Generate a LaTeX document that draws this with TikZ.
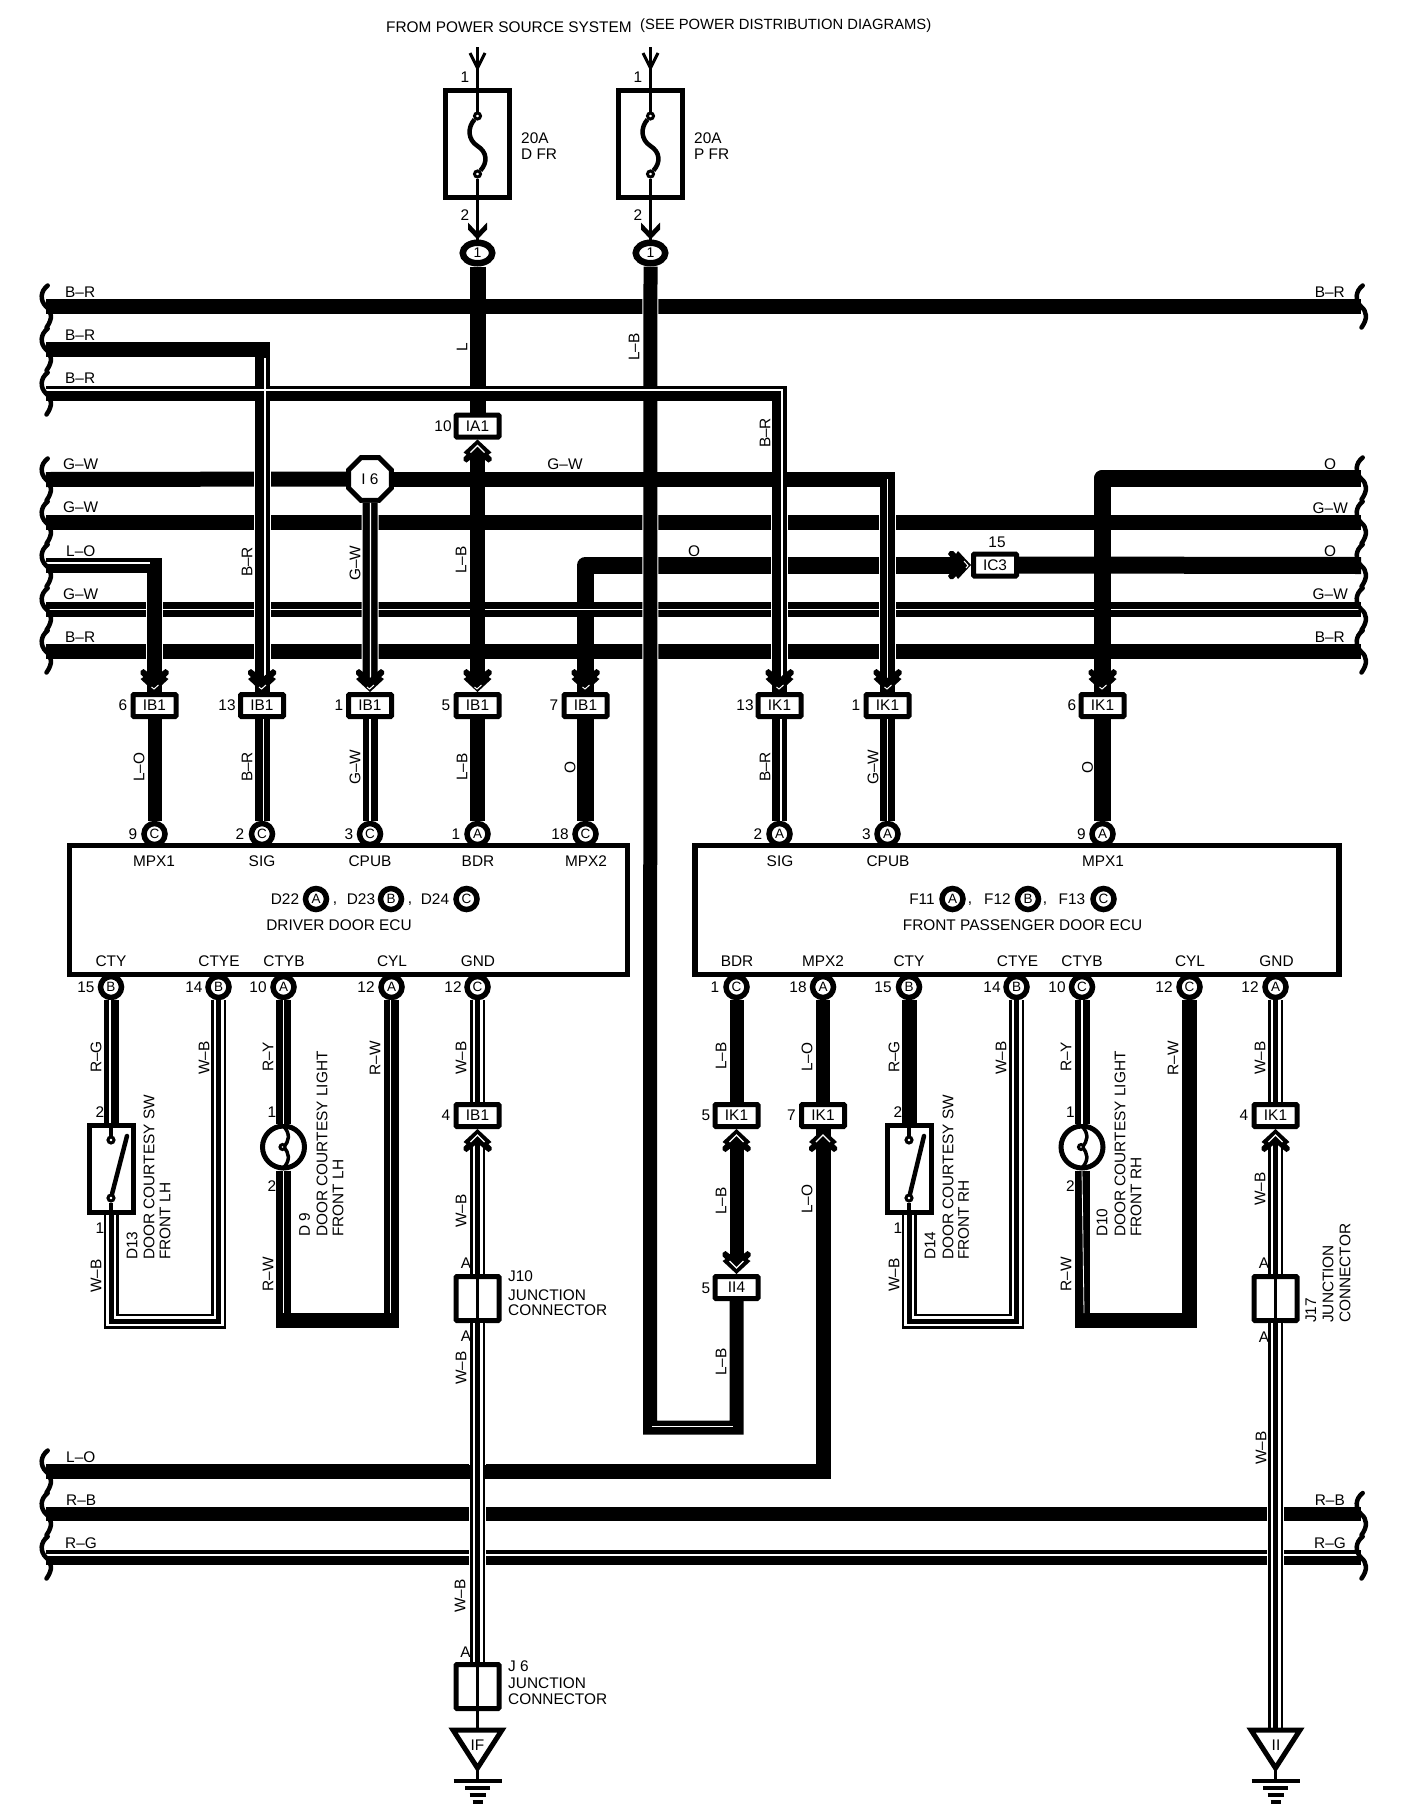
\documentclass[tikz,border=0pt]{standalone}
\usepackage{fontspec}
\setmainfont{Liberation Sans}
\usetikzlibrary{shapes.geometric}

\newcommand{\wbwire}[2][]{\draw[wbshell,#1] #2; \draw[wbcore,#1] #2;}

\begin{document}
\begin{tikzpicture}[x=1pt, y=-1pt,
		wire/.style={line width=15pt, color=INK},
		wirefat/.style={line width=17pt, color=INK, line join=round},
		thinwire/.style={line width=3pt, color=INK},
		halo/.style={line width=17pt, color=PAPER},
		stripe/.style={line width=1.3pt, color=PAPER},
		hairstripe/.style={line width=0.8pt, color=PAPER},
		wbshell/.style={line width=2.5pt, color=INK, double=PAPER, double distance=10pt},
		wbcore/.style={line width=5pt, color=INK},
		tohead/.style={shorten >=12pt},
		fromhead/.style={shorten <=12pt},
		lbl/.style={font=\fontsize{15.4}{16}\selectfont, inner sep=0pt, color=INK},
		vlbl/.style={lbl, rotate=90},
		vlbltext/.style={lbl, rotate=90, anchor=west},
		connbox/.style={draw=INK, line width=5pt, fill=PAPER, rectangle, rounded corners=1pt, minimum width=43pt, minimum height=22pt, inner sep=0pt, font=\fontsize{15.4}{16}\selectfont},
		pinmark/.style={draw=INK, line width=5.5pt, fill=PAPER, circle, minimum size=21pt, inner sep=0pt, font=\fontsize{13.5}{14}\selectfont},
		ovalmark/.style={draw=INK, line width=6.5pt, fill=PAPER, ellipse, minimum width=29.5pt, minimum height=20.5pt, inner sep=0pt, font=\fontsize{14}{15}\selectfont},
		termmark/.style={draw=INK, line width=3pt, fill=PAPER, circle, minimum size=6pt, inner sep=0pt},
		fusebox/.style={draw=INK, line width=5pt, rectangle, minimum width=64pt, minimum height=107pt},
		ecubox/.style={draw=INK, line width=5.5pt, fill=PAPER, rectangle, minimum height=129pt},
		switchbox/.style={draw=INK, line width=5pt, rectangle, minimum width=44pt, minimum height=87pt},
		lampmark/.style={draw=INK, line width=5pt, fill=PAPER, circle, minimum size=42pt, inner sep=0pt},
		jointbox/.style={draw=INK, line width=5pt, fill=PAPER, rectangle, rounded corners=1pt, minimum width=43pt, minimum height=44pt},
		headdown/.pic={
			\fill[INK] (0,0) -- (14,-13) -- (11,-15) -- (14,-18) -- (14,-21) -- (11,-23) -- (7,-20) -- (0,-14) -- (-7,-20) -- (-11,-23) -- (-14,-21) -- (-14,-18) -- (-11,-15) -- (-14,-13) -- cycle;
			\draw[PAPER, line width=1pt] (-3,-5) -- (-0.5,-3) -- (4,-7);
		},
		headup/.pic={
			\fill[INK] (0,0) -- (14,-13) -- (11,-15) -- (14,-18) -- (14,-21) -- (11,-23) -- (7,-20) -- (0,-14) -- (-7,-20) -- (-11,-23) -- (-14,-21) -- (-14,-18) -- (-11,-15) -- (-14,-13) -- cycle;
			\draw[PAPER, line width=1.3pt] (-7,-13) -- (0,-6) -- (7,-13);
		},
		headopen/.pic={
			\draw[INK, line width=3pt] (-7.5,-15) -- (0,0) -- (7.5,-15);
		},
		headfuse/.pic={
			\fill[INK] (0,0) -- (9.5,-10) -- (9.5,-17) -- (2,-9) -- (-2,-9) -- (-9.5,-17) -- (-9.5,-10) -- cycle;
		},
		wave/.pic={
			\draw[INK, line width=4.5pt, line cap=round] (1.7,-21) .. controls (-6,-15) and (-6,-6) .. (0,0) .. controls (6,5) and (7,12) .. (0.5,21);
		},
		gndmark/.pic={
			\draw[INK, line width=4pt] (-24,0) -- (24,0);
			\draw[INK, line width=4pt] (-12.5,7) -- (12.5,7);
			\draw[INK, line width=4pt] (-8,14) -- (8,14);
			\draw[INK, line width=4pt] (-5,21) -- (5,21);
		},
		trimark/.pic={
			\draw[INK, line width=5pt, fill=PAPER] (-24.5,0) -- (24.5,0) -- (0,38) -- cycle;
		}]
	\definecolor{INK}{RGB}{0, 0, 0}
	\definecolor{PAPER}{RGB}{255, 255, 255}
	\useasboundingbox (0,0) rectangle (1408,1818);

	\coordinate (busLa) at (46,306.5);
	\coordinate (busRa) at (1361,306.5);
	\coordinate (busLb) at (46,349.5);
	\coordinate (busLc) at (46,393.5);
	\coordinate (busLd) at (46,479.5);
	\coordinate (busLe) at (46,522.5);
	\coordinate (busRe) at (1361,522.5);
	\coordinate (busLf) at (46,565.5);
	\coordinate (busLg) at (46,609);
	\coordinate (busRg) at (1361,609);
	\coordinate (busLh) at (46,651.5);
	\coordinate (busRh) at (1361,651.5);
	\coordinate (busRd) at (1361,478.5);
	\coordinate (busRf) at (1361,565.5);
	\coordinate (busLi) at (46,1471.5);
	\coordinate (busLj) at (46,1514);
	\coordinate (busRj) at (1361,1514);
	\coordinate (busLk) at (46,1557.5);
	\coordinate (busRk) at (1361,1557.5);

	\node[fusebox] (fuseD) at (477.5,144) {};
	\node[fusebox] (fuseP) at (650.5,144) {};
	\node[termmark] (fuseDa) at (477.5,116) {};
	\node[termmark] (fuseDb) at (477.5,174) {};
	\node[termmark] (fusePa) at (650.5,116) {};
	\node[termmark] (fusePb) at (650.5,174) {};
	\coordinate (feedD) at (477.5,47);
	\coordinate (feedP) at (650.5,47);
	\node[ovalmark] (ovalD) at (477.5,253) {1};
	\node[ovalmark] (ovalP) at (650.5,253) {1};

	\node[connbox] (ia) at (477.5,426) {IA1};
	\node[connbox] (ic) at (995,565) {IC3};
	\node[draw=INK, line width=5pt, fill=PAPER, regular polygon, regular polygon sides=8, minimum size=46.5pt, inner sep=0pt, font=\fontsize{15.4}{16}\selectfont] (oct) at (370,479) {I 6};

	\node[connbox] (ibA) at (154.5,705.5) {IB1};
	\node[connbox] (ibB) at (262,705.5) {IB1};
	\node[connbox] (ibC) at (370,705.5) {IB1};
	\node[connbox] (ibD) at (477.5,705.5) {IB1};
	\node[connbox] (ibE) at (585.5,705.5) {IB1};
	\node[connbox] (ikF) at (779.5,705.5) {IK1};
	\node[connbox] (ikG) at (887.5,705.5) {IK1};
	\node[connbox] (ikH) at (1102.5,705.5) {IK1};

	\node[pinmark] (pnA) at (154.5,834) {C};
	\node[pinmark] (pnB) at (262,834) {C};
	\node[pinmark] (pnC) at (370,834) {C};
	\node[pinmark] (pnD) at (477.5,834) {A};
	\node[pinmark] (pnE) at (585.5,834) {C};
	\node[pinmark] (pnF) at (779.5,834) {A};
	\node[pinmark] (pnG) at (887.5,834) {A};
	\node[pinmark] (pnH) at (1102.5,834) {A};

	\node[pinmark] (pnCty) at (111,987) {B};
	\node[pinmark] (pnCtye) at (218.5,987) {B};
	\node[pinmark] (pnCtyb) at (283.5,987) {A};
	\node[pinmark] (pnCyl) at (391.5,987) {A};
	\node[pinmark] (pnGnd) at (477.5,987) {C};
	\node[pinmark] (pnBdrR) at (736.5,987) {C};
	\node[pinmark] (pnMpxR) at (823,987) {A};
	\node[pinmark] (pnCtyR) at (909,987) {B};
	\node[pinmark] (pnCtyeR) at (1016.5,987) {B};
	\node[pinmark] (pnCtybR) at (1082,987) {C};
	\node[pinmark] (pnCylR) at (1189.5,987) {C};
	\node[pinmark] (pnGndR) at (1275.5,987) {A};

	\node[ecubox, minimum width=558pt] (ecuD) at (348.5,910) {};
	\node[ecubox, minimum width=644pt] (ecuP) at (1017,910) {};

	\node[pinmark] (idA) at (316,899) {A};
	\node[pinmark] (idB) at (391,899) {B};
	\node[pinmark] (idC) at (466.5,899) {C};
	\node[pinmark] (ifA) at (952.5,899) {A};
	\node[pinmark] (ifB) at (1028,899) {B};
	\node[pinmark] (ifC) at (1103.5,899) {C};

	\node[connbox] (ibF) at (477.5,1115.5) {IB1};
	\node[connbox] (ikD) at (736.5,1115.5) {IK1};
	\node[connbox] (ikE) at (823,1115.5) {IK1};
	\node[connbox] (ikI) at (1275.5,1115.5) {IK1};
	\node[connbox] (iiD) at (736.5,1287.5) {II4};

	\node[switchbox] (swL) at (111,1169) {};
	\node[switchbox] (swR) at (909,1169) {};
	\node[termmark] (swLa) at (111,1140) {};
	\node[termmark] (swLb) at (111,1198) {};
	\node[termmark] (swRa) at (909,1140) {};
	\node[termmark] (swRb) at (909,1198) {};
	\coordinate (swLe) at (127,1136);
	\coordinate (swRe) at (924,1136);
	\node[lampmark] (lampL) at (283.5,1147) {};
	\node[lampmark] (lampR) at (1082,1147) {};

	\node[jointbox] (jA) at (477.5,1298.5) {};
	\node[jointbox] (jB) at (1275.5,1298.5) {};
	\node[jointbox] (jC) at (477.5,1686.5) {};

	\coordinate (uSwLa) at (111,1321);
	\coordinate (uSwLb) at (218.5,1321);
	\coordinate (uSwRa) at (909,1321);
	\coordinate (uSwRb) at (1016.5,1321);
	\coordinate (uLpLa) at (283.5,1320);
	\coordinate (uLpLb) at (391.5,1320);
	\coordinate (uLpRa) at (1082,1320);
	\coordinate (uLpRb) at (1189.5,1320);
	\coordinate (uLbA) at (650,1427.5);
	\coordinate (uLbB) at (736.5,1427.5);
	\coordinate (triL) at (477.5,1730);
	\coordinate (triR) at (1275.5,1730);
	\coordinate (tipL) at (477.5,1768);
	\coordinate (tipR) at (1275.5,1768);
	\coordinate (gndL) at (477.5,1781);
	\coordinate (gndR) at (1275.5,1781);

	\draw[wire] (busLa) -- (busRa);
	\draw[wire] (busLb) -| (ibB.north);
	\draw[wire] (busLc) -| (ikF.north);
	\draw[wire] (busLd) -- (oct.west);
	\draw[wire] (oct.east) -| (ikG.north);
	\draw[wire] (busLe) -- (busRe);
	\draw[wire] (busLf) -| (ibA.north);
	\draw[wire] (busLg) -- (busRg);
	\draw[wire] (busLh) -- (busRh);
	\draw[wire] (busLi) -| (ikE.south);
	\draw[wire, line width=14pt] (busLj) -- (busRj);
	\draw[wire] (busLk) -- (busRk);
	\draw[wirefat, fromhead] (ic.west) -| (ibE.north);
	\draw[wirefat] (ic.east) -- (busRf);
	\draw[wirefat] (busRd) -| (ikH.north);
	\draw[stripe] ([yshift=-0.3pt]busLg) -- ([yshift=-0.3pt]busRg);
	\draw[stripe] ([yshift=2.5pt]busLk) -- ([yshift=2.5pt]busRk);

	\draw[halo, tohead] (ibA.north |- busLf) -- (ibA.north);
	\draw[halo, tohead] (ibB.north |- busLb) -- (ibB.north);
	\draw[halo, tohead] (oct.south) -- (ibC.north);
	\draw[halo, tohead] (ikF.north |- busLc) -- (ikF.north);
	\draw[halo, tohead] (ikG.north |- busLd) -- (ikG.north);
	\draw[halo, line width=16pt] (ovalP.south) -- (uLbA);
	\draw[halo] (jA.south) -- (jC.north);
	\draw[halo] (jB.south) -- (triR);

	\draw[wire, tohead] (busLf) -| (ibA.north);
	\draw[wire, tohead] (busLb) -| (ibB.north);
	\draw[wire, tohead] (oct.south) -- (ibC.north);
	\draw[wire, tohead] (busLc) -| (ikF.north);
	\draw[wire, tohead] (oct.east) -| (ikG.north);
	\draw[wirefat, tohead] (busRd) -| (ikH.north);
	\draw[wire, line width=16pt] (ovalD.south) -- (ia.north);
	\draw[wire, fromhead, tohead] (ia.south) -- (ibD.north);
	\draw[wire, line width=14pt] (ovalP.south) -- (uLbA) -- (uLbB) -- (iiD.south);
	\draw[wire, line width=14pt, tohead] (busLi) -| (ikE.south);

	\draw[stripe] ([yshift=2.5pt]busLf) -- (150,563);
	\draw[stripe] (265,358) -- ([xshift=3pt, yshift=14pt]ibB.north);
	\draw[stripe, tohead] ([yshift=3.5pt]busLc) -| ([xshift=2.5pt]ikF.north);
	\draw[stripe, tohead] ([xshift=0.5pt]oct.south) -- ([xshift=0.5pt]ibC.north);
	\draw[stripe, tohead] (887.5,479) -- (ikG.north);
	\draw[hairstripe] (652,1426) -- (733,1426);

	\draw[wire, line width=14pt] (ibA.south) -- (pnA.north);
	\draw[wire] (ibB.south) -- (pnB.north);
	\draw[wire] (ibC.south) -- (pnC.north);
	\draw[wire] (ibD.south) -- (pnD.north);
	\draw[wirefat] (ibE.south) -- (pnE.north);
	\draw[wire] (ikF.south) -- (pnF.north);
	\draw[wire] (ikG.south) -- (pnG.north);
	\draw[wirefat] (ikH.south) -- (pnH.north);
	\draw[stripe] ([xshift=1.5pt]ibB.south) -- ([xshift=1.5pt]pnB.north);
	\draw[stripe] (ibC.south) -- (pnC.north);
	\draw[stripe] ([xshift=1.5pt]ikF.south) -- ([xshift=1.5pt]pnF.north);
	\draw[stripe] (ikG.south) -- (pnG.north);

	\draw[wire] (pnCty.south) -- (swL.north);
	\draw[stripe] ([xshift=-1pt]pnCty.south) -- ([xshift=-1pt]swL.north);
	\draw[line width=4pt, color=INK] (swL.north) -- (swLa);
	\draw[line width=4pt, color=INK] (swLb) -- (swL.south);
	\draw[line width=4.5pt, color=INK, line cap=round] (swLb) -- (swLe);
	\wbwire{(swL.south) -- (uSwLa) -- (uSwLb) -- (pnCtye.south)}
	\draw[wire] (pnCtyb.south) -- (lampL.north);
	\draw[stripe] (pnCtyb.south) -- (lampL.north);
	\draw[wire] (lampL.south) -- (uLpLa) -- (uLpLb) -- (pnCyl.south);
	\draw[hairstripe] (lampL.south) -- (283.5,1313);
	\draw[hairstripe] (390.5,1313) -- ([xshift=-1pt]pnCyl.south);

	\wbwire{(pnGnd.south) -- (ibF.north)}
	\wbwire[fromhead]{(ibF.south) -- (jA.north)}
	\wbwire{(jA.south) -- (jC.north)}
	\draw[line width=3.5pt, color=INK] (jA.north) -- (jA.south);
	\draw[line width=3.5pt, color=INK] (jC.north) -- (jC.south);
	\draw[thinwire] (jC.south) -- (triL);

	\draw[wire, line width=14pt] (pnBdrR.south) -- (ikD.north);
	\draw[wire, line width=14pt, fromhead, tohead] (ikD.south) -- (iiD.north);
	\draw[wire, line width=14pt] (pnMpxR.south) -- (ikE.north);
	\draw[wire] (pnCtyR.south) -- (swR.north);
	\draw[line width=4pt, color=INK] (swR.north) -- (swRa);
	\draw[line width=4pt, color=INK] (swRb) -- (swR.south);
	\draw[line width=4.5pt, color=INK, line cap=round] (swRb) -- (swRe);
	\wbwire{(swR.south) -- (uSwRa) -- (uSwRb) -- (pnCtyeR.south)}
	\draw[wire] (pnCtybR.south) -- (lampR.north);
	\draw[stripe] (pnCtybR.south) -- (lampR.north);
	\draw[wire] (lampR.south) -- (uLpRa) -- (uLpRb) -- (pnCylR.south);
	\draw[hairstripe] (lampR.south) -- (1084,1313);

	\wbwire{(pnGndR.south) -- (ikI.north)}
	\wbwire[fromhead]{(ikI.south) -- (jB.north)}
	\wbwire{(jB.south) -- (triR)}
	\draw[line width=3.5pt, color=INK] (jB.north) -- (jB.south);

	\draw[thinwire] (feedD) -- (fuseDa);
	\draw[thinwire] (fuseDb) -- (ovalD.north);
	\draw[thinwire] (feedP) -- (fusePa);
	\draw[thinwire] (fusePb) -- (ovalP.north);
	\draw[line width=4.5pt, color=INK] (fuseDa) .. controls (467,128) and (468,140) .. (477.5,146) .. controls (487,152) and (488,162) .. (fuseDb);
	\draw[line width=4.5pt, color=INK] (fusePa) .. controls (640,128) and (641,140) .. (650.5,146) .. controls (660,152) and (661,162) .. (fusePb);

	\begin{scope}[shift={(283.5,1147)}]
		\draw[line width=3.5pt, color=INK] (0,-21) .. controls (7,-13) and (6,-6) .. (0,0) .. controls (6,6) and (7,13) .. (0,21);
		\node[termmark, minimum size=5pt] (lampLc) at (-1,0) {};
	\end{scope}
	\begin{scope}[shift={(1082,1147)}]
		\draw[line width=3.5pt, color=INK] (0,-21) .. controls (7,-13) and (6,-6) .. (0,0) .. controls (6,6) and (7,13) .. (0,21);
		\node[termmark, minimum size=5pt] (lampRc) at (-1,0) {};
	\end{scope}

	\pic at (busLa) {wave};
	\pic at (busLb) {wave};
	\pic at (busLc) {wave};
	\pic at (busLd) {wave};
	\pic at (busLe) {wave};
	\pic at (busLf) {wave};
	\pic at (busLg) {wave};
	\pic at (busLh) {wave};
	\pic at (busLi) {wave};
	\pic at (busLj) {wave};
	\pic at (busLk) {wave};
	\pic at (busRa) {wave};
	\pic at (busRd) {wave};
	\pic at (busRe) {wave};
	\pic at (busRf) {wave};
	\pic at (busRg) {wave};
	\pic at (busRh) {wave};
	\pic at (busRj) {wave};
	\pic at (busRk) {wave};

	\pic at (477.5,68) {headopen};
	\pic at (650.5,68) {headopen};
	\pic at (ovalD.north) {headfuse};
	\pic at (ovalP.north) {headfuse};
	\pic at (ibA.north) {headdown};
	\pic at (ibB.north) {headdown};
	\pic at (ibC.north) {headdown};
	\pic at (ibD.north) {headdown};
	\pic at (ibE.north) {headdown};
	\pic at (ikF.north) {headdown};
	\pic at (ikG.north) {headdown};
	\pic at (ikH.north) {headdown};
	\pic at (iiD.north) {headup};
	\pic[rotate=90] at (ic.west) {headdown};
	\pic[rotate=180] at (ia.south) {headup};
	\pic[rotate=180] at (ibF.south) {headup};
	\pic[rotate=180] at (ikD.south) {headup};
	\pic[rotate=180] at (ikE.south) {headup};
	\pic[rotate=180] at (ikI.south) {headup};

	\pic at (triL) {trimark};
	\pic at (triR) {trimark};
	\draw[thinwire] (tipL) -- (gndL);
	\draw[thinwire] (tipR) -- (gndR);
	\pic at (gndL) {gndmark};
	\pic at (gndR) {gndmark};
	\node[lbl] (triLt) at (477.5,1745) {IF};
	\node[lbl] (triRt) at (1276,1745) {II};

	\node[lbl, anchor=west] (srcA) at (386,27) {FROM POWER SOURCE SYSTEM};
	\node[lbl, anchor=west, font=\fontsize{14.8}{16}\selectfont] (srcB) at (640,26) {(SEE POWER DISTRIBUTION DIAGRAMS)};
	\node[lbl] (fdA) at (465,77) {1};
	\node[lbl] (fdB) at (465,215) {2};
	\node[lbl] (fpA) at (638,77) {1};
	\node[lbl] (fpB) at (638,215) {2};
	\node[lbl, anchor=west] (fdC) at (521,138) {20A};
	\node[lbl, anchor=west] (fdD) at (521,154) {D FR};
	\node[lbl, anchor=west] (fpC) at (694,138) {20A};
	\node[lbl, anchor=west] (fpD) at (694,154) {P FR};
	\node[lbl] (iaN) at (443,426) {10};
	\node[lbl] (icN) at (997,542) {15};

	\node[lbl, anchor=west] (nbLa) at (65,292) {B–R};
	\node[lbl, anchor=west] (nbLb) at (65,335) {B–R};
	\node[lbl, anchor=west] (nbLc) at (65,378) {B–R};
	\node[lbl, anchor=west] (nbLd) at (63,464) {G–W};
	\node[lbl, anchor=west] (nbLe) at (63,507) {G–W};
	\node[lbl, anchor=west] (nbLf) at (66,551) {L–O};
	\node[lbl, anchor=west] (nbLg) at (63,594) {G–W};
	\node[lbl, anchor=west] (nbLh) at (65,637) {B–R};
	\node[lbl, anchor=west] (nbLi) at (66,1457) {L–O};
	\node[lbl, anchor=west] (nbLj) at (66,1500) {R–B};
	\node[lbl, anchor=west] (nbLk) at (65,1543) {R–G};
	\node[lbl, anchor=east] (nbRa) at (1345,292) {B–R};
	\node[lbl] (nbRd) at (1330,464) {O};
	\node[lbl, anchor=east] (nbRe) at (1348,508) {G–W};
	\node[lbl] (nbRf) at (1330,551) {O};
	\node[lbl, anchor=east] (nbRg) at (1348,594) {G–W};
	\node[lbl, anchor=east] (nbRh) at (1345,637) {B–R};
	\node[lbl, anchor=east] (nbRj) at (1345,1500) {R–B};
	\node[lbl, anchor=east] (nbRk) at (1346,1543) {R–G};
	\node[lbl] (midA) at (565,464) {G–W};
	\node[lbl] (midB) at (694,551) {O};

	\node[vlbl] (vwL) at (462,347) {L};
	\node[vlbl] (vwLb) at (634,347) {L–B};
	\node[vlbl] (vwBr) at (765,433) {B–R};
	\node[vlbl] (vwBa) at (247,562) {B–R};
	\node[vlbl] (vwGa) at (355,563) {G–W};
	\node[vlbl] (vwLc) at (461,560) {L–B};
	\node[vlbl] (vtA) at (139,767) {L–O};
	\node[vlbl] (vtB) at (247,767) {B–R};
	\node[vlbl] (vtC) at (355,767) {G–W};
	\node[vlbl] (vtD) at (462,767) {L–B};
	\node[vlbl] (vtE) at (570,767) {O};
	\node[vlbl] (vtF) at (765,767) {B–R};
	\node[vlbl] (vtG) at (873,767) {G–W};
	\node[vlbl] (vtH) at (1087.5,767) {O};

	\node[lbl] (nA) at (133,834) {9};
	\node[lbl] (nB) at (240,834) {2};
	\node[lbl] (nC) at (349,834) {3};
	\node[lbl] (nD) at (456,834) {1};
	\node[lbl] (nE) at (560,834) {18};
	\node[lbl] (nF) at (758,834) {2};
	\node[lbl] (nG) at (866.5,834) {3};
	\node[lbl] (nH) at (1081.5,834) {9};
	\node[lbl] (mA) at (123,705) {6};
	\node[lbl] (mB) at (227,705) {13};
	\node[lbl] (mC) at (339,705) {1};
	\node[lbl] (mD) at (446,705) {5};
	\node[lbl] (mE) at (554,705) {7};
	\node[lbl] (mF) at (745,705) {13};
	\node[lbl] (mG) at (856,705) {1};
	\node[lbl] (mH) at (1072,705) {6};

	\node[lbl] (tpA) at (154,861) {MPX1};
	\node[lbl] (tpB) at (262,861) {SIG};
	\node[lbl] (tpC) at (370,861) {CPUB};
	\node[lbl] (tpD) at (478,861) {BDR};
	\node[lbl] (tpE) at (586,861) {MPX2};
	\node[lbl] (tpF) at (780,861) {SIG};
	\node[lbl] (tpG) at (888,861) {CPUB};
	\node[lbl] (tpH) at (1103,861) {MPX1};

	\node[lbl] (idAt) at (285,899) {D22};
	\node[lbl] (idAc) at (335,904) {,};
	\node[lbl] (idBt) at (361,899) {D23};
	\node[lbl] (idBc) at (410,904) {,};
	\node[lbl] (idCt) at (435,899) {D24};
	\node[lbl] (ecuDt) at (339,925) {DRIVER DOOR ECU};
	\node[lbl] (ifAt) at (922,899) {F11};
	\node[lbl] (ifAc) at (970,904) {,};
	\node[lbl] (ifBt) at (997.5,899) {F12};
	\node[lbl] (ifBc) at (1045,904) {,};
	\node[lbl] (ifCt) at (1072,899) {F13};
	\node[lbl] (ecuPt) at (1022.5,925) {FRONT PASSENGER DOOR ECU};

	\node[lbl] (btA) at (111,961) {CTY};
	\node[lbl] (btB) at (219,961) {CTYE};
	\node[lbl] (btC) at (284,961) {CTYB};
	\node[lbl] (btD) at (392,961) {CYL};
	\node[lbl] (btE) at (478,961) {GND};
	\node[lbl] (btF) at (737,961) {BDR};
	\node[lbl] (btG) at (823,961) {MPX2};
	\node[lbl] (btH) at (909,961) {CTY};
	\node[lbl] (btI) at (1017.5,961) {CTYE};
	\node[lbl] (btJ) at (1082,961) {CTYB};
	\node[lbl] (btK) at (1190,961) {CYL};
	\node[lbl] (btL) at (1276.5,961) {GND};
	\node[lbl] (bnA) at (86,987) {15};
	\node[lbl] (bnB) at (194,987) {14};
	\node[lbl] (bnC) at (258,987) {10};
	\node[lbl] (bnD) at (366,987) {12};
	\node[lbl] (bnE) at (453,987) {12};
	\node[lbl] (bnF) at (715,987) {1};
	\node[lbl] (bnG) at (798,987) {18};
	\node[lbl] (bnH) at (883,987) {15};
	\node[lbl] (bnI) at (992,987) {14};
	\node[lbl] (bnJ) at (1057,987) {10};
	\node[lbl] (bnK) at (1164,987) {12};
	\node[lbl] (bnL) at (1250,987) {12};

	\node[vlbl] (vbA) at (96,1057) {R–G};
	\node[vlbl] (vbB) at (204,1058) {W–B};
	\node[vlbl] (vbC) at (268,1057) {R–Y};
	\node[vlbl] (vbD) at (375,1058) {R–W};
	\node[vlbl] (vbE) at (461,1058) {W–B};
	\node[vlbl] (vbF) at (721,1056) {L–B};
	\node[vlbl] (vbG) at (807,1057) {L–O};
	\node[vlbl] (vbH) at (894,1057) {R–G};
	\node[vlbl] (vbI) at (1001,1058) {W–B};
	\node[vlbl] (vbJ) at (1066,1057) {R–Y};
	\node[vlbl] (vbK) at (1173,1058) {R–W};
	\node[vlbl] (vbL) at (1260,1058) {W–B};
	\node[vlbl] (vcA) at (96,1276) {W–B};
	\node[vlbl] (vcC) at (268,1274) {R–W};
	\node[vlbl] (vcE) at (461,1211) {W–B};
	\node[vlbl] (vcF) at (461,1368) {W–B};
	\node[vlbl] (vcG) at (460,1596) {W–B};
	\node[vlbl] (vcH) at (721,1201) {L–B};
	\node[vlbl] (vcI) at (721,1362) {L–B};
	\node[vlbl] (vcJ) at (807,1199) {L–O};
	\node[vlbl] (vcK) at (894,1275) {W–B};
	\node[vlbl] (vcL) at (1066,1274) {R–W};
	\node[vlbl] (vcM) at (1260,1189) {W–B};
	\node[vlbl] (vcN) at (1261,1448) {W–B};

	\node[lbl] (cfA) at (446,1115) {4};
	\node[lbl] (cfB) at (706,1115) {5};
	\node[lbl] (cfC) at (791.5,1115) {7};
	\node[lbl] (cfD) at (1244,1115) {4};
	\node[lbl] (cfE) at (706,1288) {5};
	\node[lbl] (swLn) at (100,1112) {2};
	\node[lbl] (swLm) at (100,1228) {1};
	\node[lbl] (swRn) at (898,1112) {2};
	\node[lbl] (swRm) at (898,1228) {1};
	\node[lbl] (lpLn) at (272,1112) {1};
	\node[lbl] (lpLm) at (272,1186) {2};
	\node[lbl] (lpRn) at (1070.5,1112) {1};
	\node[lbl] (lpRm) at (1070.5,1186) {2};

	\node[vlbltext] (swLa1) at (132,1260) {D13};
	\node[vlbltext] (swLa2) at (149,1260) {DOOR COURTESY SW};
	\node[vlbltext] (swLa3) at (165,1260) {FRONT LH};
	\node[vlbltext] (lpLa1) at (304.5,1237) {D 9};
	\node[vlbltext] (lpLa2) at (322,1237) {DOOR COURTESY LIGHT};
	\node[vlbltext] (lpLa3) at (338,1237) {FRONT LH};
	\node[vlbltext] (swRa1) at (930,1260) {D14};
	\node[vlbltext] (swRa2) at (948,1260) {DOOR COURTESY SW};
	\node[vlbltext] (swRa3) at (963.5,1260) {FRONT RH};
	\node[vlbltext] (lpRa1) at (1102,1237) {D10};
	\node[vlbltext] (lpRa2) at (1120,1237) {DOOR COURTESY LIGHT};
	\node[vlbltext] (lpRa3) at (1136,1237) {FRONT RH};

	\node[lbl] (jAa) at (466,1263) {A};
	\node[lbl] (jAb) at (466,1336) {A};
	\node[lbl, anchor=west] (jAt) at (508,1276) {J10};
	\node[lbl, anchor=west] (jAu) at (508,1295) {JUNCTION};
	\node[lbl, anchor=west] (jAv) at (508,1310) {CONNECTOR};
	\node[lbl] (jBa) at (1264,1263) {A};
	\node[lbl] (jBb) at (1264,1337) {A};
	\node[vlbltext] (jBt) at (1311,1323) {J17};
	\node[vlbltext] (jBu) at (1328,1323) {JUNCTION};
	\node[vlbltext] (jBv) at (1345,1323) {CONNECTOR};
	\node[lbl] (jCa) at (465.5,1652) {A};
	\node[lbl, anchor=west] (jCt) at (508,1666) {J 6};
	\node[lbl, anchor=west] (jCu) at (508,1683) {JUNCTION};
	\node[lbl, anchor=west] (jCv) at (508,1699) {CONNECTOR};
\end{tikzpicture}
\end{document}
